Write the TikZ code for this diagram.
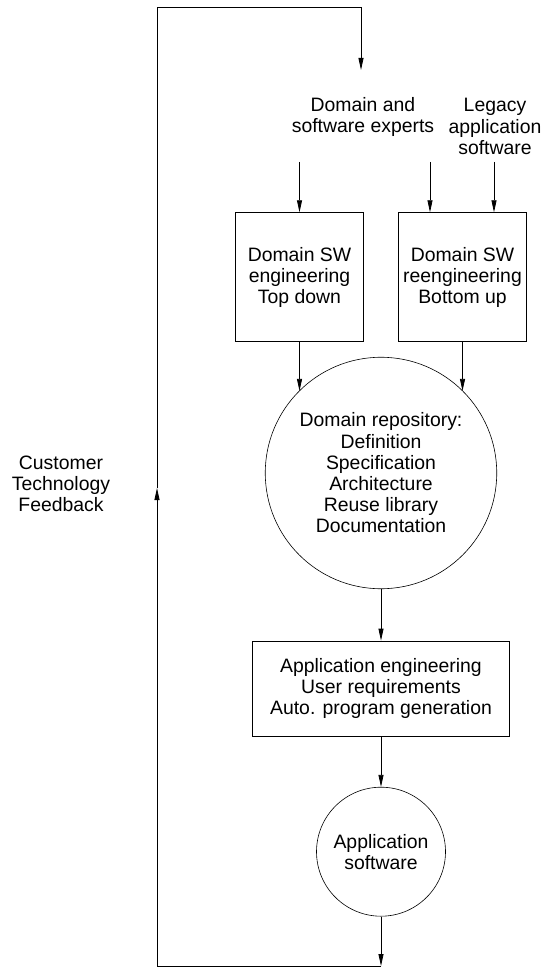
\documentclass[tikz,border=0pt]{standalone}
\usepackage{fontspec}
\setmainfont{Liberation Sans}
\usetikzlibrary{arrows.meta}
\begin{document}
\begin{tikzpicture}[x=1pt,y=-1pt,
  every node/.style={font=\fontsize{19.4}{21.2}\selectfont, align=center, inner sep=0pt},
  box/.style={draw, line width=0.8pt},
  bubble/.style={draw, circle, line width=0.6pt},
  flow/.style={-{Triangle[length=12pt,width=5pt]}, line width=0.8pt}]
\useasboundingbox (0,0) rectangle (545,968);

% labels
\node (experts) at (363,117) {Domain and\\software experts};
\node (legacy) at (495,126.5) {Legacy\\application\\software};
\node (feedback) at (61,484) {Customer\\Technology\\Feedback};

% process boxes
\node[box, minimum width=128pt, minimum height=129pt] (topdown) at (299.5,277.2)
  {Domain SW\\engineering\\Top down};
\node[box, minimum width=128pt, minimum height=129pt] (bottomup) at (462.5,277.2)
  {Domain SW\\reengineering\\Bottom up};

% repository
\node[bubble, minimum size=231.5pt] (repo) at (381,473)
  {Domain repository:\\Definition\\Specification\\Architecture\\Reuse library\\Documentation};

% application engineering
\node[box, minimum width=256.3pt, minimum height=95pt] (appeng) at (381,688.5)
  {Application engineering\\User requirements\\Auto. program generation};

% application software
\node[bubble, minimum size=129pt] (appsw) at (381,851.7) {Application\\software};

% free ends of the connectors
\coordinate (s1) at (299.5,162);
\coordinate (s2) at (430,162);
\coordinate (s3) at (494,162);
\coordinate (br) at (381,966);
\coordinate (bl) at (157,966);
\coordinate (mid) at (157,488);
\coordinate (tl) at (157,7);
\coordinate (tr) at (361,7);
\coordinate (inlet) at (361,70);

% inputs into the domain engineering boxes
\draw[flow] (s1) -- (topdown.north);
\draw[flow] (s2) -- (s2 |- bottomup.north);
\draw[flow] (s3) -- (s3 |- bottomup.north);

% into the repository
\draw[flow] (topdown.south) -- (topdown.south |- repo.135);
\draw[flow] (bottomup.south) -- (bottomup.south |- repo.45);

% down the main chain
\draw[flow] (repo.south) -- (appeng.north);
\draw[flow] (appeng.south) -- (appsw.north);
\draw[flow] (appsw.south) -- (br);

% feedback loop
\draw[flow] (br) -- (bl) -- (mid);
\draw[flow] (mid) -- (tl) -- (tr) -- (inlet);
\end{tikzpicture}
\end{document}
